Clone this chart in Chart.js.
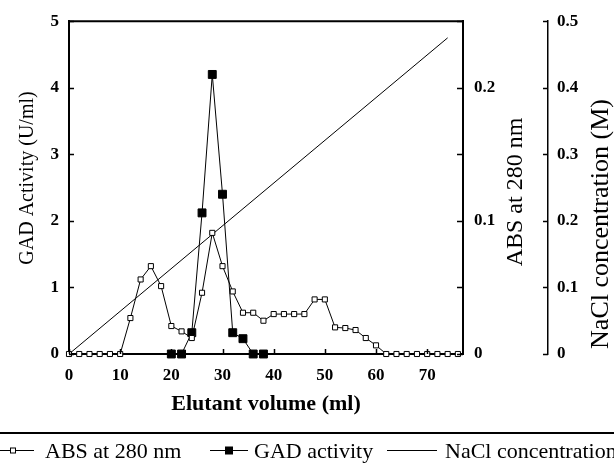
<!DOCTYPE html>
<html>
<head>
<meta charset="utf-8">
<script src="https://cdn.jsdelivr.net/npm/chart.js@4"></script>
<style>
  body { margin: 0; background: #fff; }
</style>
</head>
<body>
<canvas id="elutionChart" width="614" height="463"></canvas>
<script>
// fractions collected every 2 ml
const fractionVolume = [0, 2, 4, 6, 8, 10, 12, 14, 16, 18, 20, 22, 24, 26, 28, 30, 32, 34, 36, 38,
    40, 42, 44, 46, 48, 50, 52, 54, 56, 58, 60, 62, 64, 66, 68, 70, 72, 74, 76];
const absValues = [0, 0, 0, 0, 0, 0, 0.027, 0.056, 0.066, 0.051, 0.021, 0.017, 0.012, 0.046, 0.091, 0.066, 0.047, 0.031, 0.031, 0.025,
    0.030, 0.030, 0.030, 0.030, 0.041, 0.041, 0.020, 0.0195, 0.018, 0.012, 0.0065, 0, 0, 0, 0, 0, 0, 0, 0];
const gadVolume = [20, 22, 24, 26, 28, 30, 32, 34, 36, 38];
const gadValues = [0, 0, 0.32, 2.12, 4.2, 2.4, 0.32, 0.23, 0, 0];
const naclVolume = [0, 74];
const naclValues = [0, 0.475];

const xTickValues = [0, 10, 20, 30, 40, 50, 60, 70];
const legendLabels = ["ABS at 280 nm", "GAD activity", "NaCl concentration"];

const serif = "'Liberation Serif', 'Times New Roman', serif";
const tickFont = { family: serif, size: 17, weight: "bold" };

function points(xs, ys) {
    return xs.map((x, i) => ({ x: x, y: ys[i] }));
}

function decimalLabel(v) {
    const hundredths = Math.round(v * 100);
    if (hundredths % 10 !== 0) return "";
    return hundredths === 0 ? "0" : (hundredths / 100).toFixed(1);
}

// frame, inward tick marks, axis titles and the legend strip
const frameAndLabels = {
    id: "frameAndLabels",
    afterDraw(chart) {
        const ctx = chart.ctx;
        const area = chart.chartArea;
        const s = chart.scales;
        ctx.save();
        ctx.strokeStyle = "#000";
        ctx.fillStyle = "#000";

        ctx.lineWidth = 2;
        ctx.beginPath();
        ctx.moveTo(area.left - 1, area.top);
        ctx.lineTo(area.right + 1, area.top);
        ctx.stroke();

        ctx.lineWidth = 1.5;
        ctx.beginPath();
        s.y.ticks.forEach(t => {
            const p = Math.round(s.y.getPixelForValue(t.value)) + 0.5;
            ctx.moveTo(area.left, p); ctx.lineTo(area.left + 5, p);
        });
        s.yAbs.ticks.forEach(t => {
            const p = Math.round(s.yAbs.getPixelForValue(t.value)) + 0.5;
            ctx.moveTo(area.right, p); ctx.lineTo(area.right - 6, p);
        });
        s.x.ticks.forEach(t => {
            const p = Math.round(s.x.getPixelForValue(t.value)) + 0.5;
            ctx.moveTo(p, area.bottom); ctx.lineTo(p, area.bottom - 5);
        });
        const naclX = s.yNacl.left;
        s.yNacl.ticks.forEach(t => {
            const p = Math.round(s.yNacl.getPixelForValue(t.value)) + 0.5;
            ctx.moveTo(naclX, p); ctx.lineTo(naclX - 5, p);
        });
        ctx.stroke();

        // axis titles
        ctx.textAlign = "center";
        ctx.textBaseline = "middle";
        function vertical(text, x, y, font) {
            ctx.save();
            ctx.translate(x, y);
            ctx.rotate(-Math.PI / 2);
            ctx.font = font;
            ctx.fillText(text, 0, 0);
            ctx.restore();
        }
        vertical("GAD Activity (U/ml)", 28, 178, "20px " + serif);
        vertical("ABS at 280 nm", 516, 192, "24px " + serif);
        vertical("NaCl concentration (M)", 601, 224, "26px " + serif);
        ctx.font = "bold 22px " + serif;
        ctx.fillText("Elutant volume (ml)", (area.left + area.right) / 2, 404);

        // legend strip
        ctx.lineWidth = 2;
        ctx.beginPath();
        ctx.moveTo(0, 433); ctx.lineTo(chart.width, 433);
        ctx.stroke();

        const ly = 450.5;
        ctx.lineWidth = 1;
        ctx.beginPath();
        ctx.moveTo(0, ly); ctx.lineTo(34, ly);
        ctx.moveTo(210, ly); ctx.lineTo(248, ly);
        ctx.moveTo(387, ly); ctx.lineTo(437, ly);
        ctx.stroke();
        ctx.fillStyle = "#fff";
        ctx.fillRect(10.5, ly - 2.5, 5, 5);
        ctx.strokeRect(10.5, ly - 2.5, 5, 5);
        ctx.fillStyle = "#000";
        ctx.fillRect(225, ly - 4, 8, 8);

        ctx.font = "22px " + serif;
        ctx.textAlign = "left";
        ctx.textBaseline = "alphabetic";
        ctx.fillText(legendLabels[0], 45, 458);
        ctx.fillText(legendLabels[1], 254, 458);
        ctx.fillText(legendLabels[2], 445, 458);
        ctx.restore();
    }
};

const ctx = document.getElementById("elutionChart").getContext("2d");
const elutionChart = new Chart(ctx, {
    type: "line",
    data: {
        datasets: [
            {
                label: legendLabels[0],
                data: points(fractionVolume, absValues),
                yAxisID: "yAbs",
                borderColor: "#000",
                borderWidth: 1,
                pointStyle: "rect",
                pointRadius: 3.6,
                pointBackgroundColor: "#fff",
                pointBorderColor: "#000",
                pointBorderWidth: 1,
                tension: 0,
                clip: false
            },
            {
                label: legendLabels[1],
                data: points(gadVolume, gadValues),
                yAxisID: "y",
                borderColor: "#000",
                borderWidth: 1,
                pointStyle: "rect",
                pointRadius: 5.6,
                pointBackgroundColor: "#000",
                pointBorderColor: "#000",
                pointBorderWidth: 1,
                tension: 0,
                clip: false
            },
            {
                label: legendLabels[2],
                data: points(naclVolume, naclValues),
                yAxisID: "yNacl",
                borderColor: "#000",
                borderWidth: 1,
                pointRadius: 0,
                tension: 0,
                clip: false
            }
        ]
    },
    options: {
        responsive: false,
        animation: false,
        layout: { padding: { top: 21, left: 0, right: 0, bottom: 0 } },
        plugins: {
            legend: { display: false },
            tooltip: { enabled: false }
        },
        scales: {
            x: {
                type: "linear",
                min: 0,
                max: 77,
                afterFit: scale => { scale.height = 109; },
                afterBuildTicks: scale => {
                    scale.ticks = xTickValues.map(v => ({ value: v }));
                },
                grid: { drawOnChartArea: false, drawTicks: false },
                border: { color: "#000", width: 2 },
                ticks: { color: "#000", font: tickFont, padding: 11, maxRotation: 0 }
            },
            y: {
                position: "left",
                min: 0,
                max: 5,
                afterFit: scale => { scale.width = 69; },
                grid: { drawOnChartArea: false, drawTicks: false },
                border: { color: "#000", width: 2 },
                ticks: { stepSize: 1, color: "#000", font: tickFont, padding: 10 }
            },
            yAbs: {
                position: "right",
                weight: 0,
                min: 0,
                max: 0.25,
                afterFit: scale => { scale.width = 85; },
                grid: { drawOnChartArea: false, drawTicks: false },
                border: { color: "#000", width: 2 },
                ticks: { stepSize: 0.05, color: "#000", font: tickFont, padding: 11, callback: decimalLabel }
            },
            yNacl: {
                position: "right",
                weight: 1,
                min: 0,
                max: 0.5,
                afterFit: scale => { scale.width = 66; },
                grid: { drawOnChartArea: false, drawTicks: false },
                border: { color: "#000", width: 1.5 },
                ticks: { stepSize: 0.1, color: "#000", font: tickFont, padding: 9, callback: decimalLabel }
            }
        }
    },
    plugins: [frameAndLabels]
});
</script>
</body>
</html>
